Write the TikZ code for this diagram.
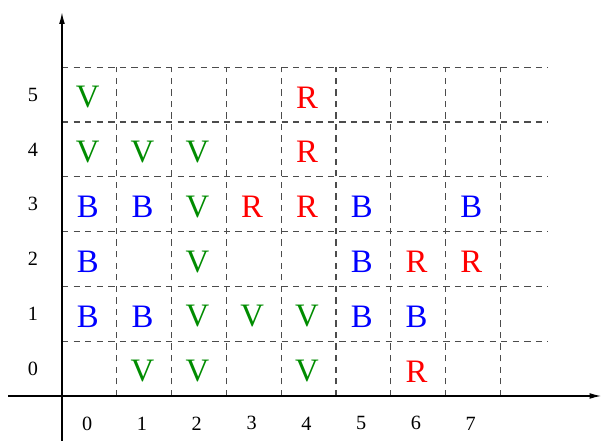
\documentclass[tikz,border=0pt]{standalone}
\usepackage{fontspec}
\setmainfont{Liberation Serif}
\usetikzlibrary{arrows.meta}
\definecolor{cgreen}{RGB}{0,140,0}
\definecolor{cred}{RGB}{255,0,0}
\definecolor{cblue}{RGB}{0,0,255}
\tikzset{
  axis/.style={line width=0.65pt, -{Latex[length=6pt,width=3pt]}},
  gridline/.style={dash pattern=on 3.3pt off 2.7pt, draw=black!70, line width=0.6pt},
  ticklabel/.style={font=\fontsize{10.5}{12}\selectfont},
  cell/.style={font=\fontsize{17}{20}\selectfont, inner sep=0pt},
  cv/.style={cell, text=cgreen},
  cr/.style={cell, text=cred},
  cb/.style={cell, text=cblue}
}
\begin{document}
\begin{tikzpicture}[x=1cm,y=1cm]
\useasboundingbox (-1.131,-0.821) rectangle (9.854,7.226);
% dashed grid
\foreach \j in {1,...,6} \draw[gridline] (0,\j) -- (8.87,\j);
\foreach \i in {1,...,8} \draw[gridline] (\i,0) -- (\i,6);
% axes
\coordinate (xs) at (-0.985,0);
\coordinate (xe) at (9.84,0);
\coordinate (ys) at (0,-0.821);
\coordinate (ye) at (0,7.0);
\draw[axis] (xs) -- (xe);
\draw[axis] (ys) -- (ye);
% axis labels
\foreach \i in {0,...,7} \node[ticklabel] (xl\i) at (\i+0.46,-0.5) {\i};
\foreach \j in {0,...,5} \node[ticklabel] (yl\j) at (-0.53,\j+0.5) {\j};
% cell contents
\foreach \x/\y/\s/\t in {
  0/5/cv/V, 4/5/cr/R,
  0/4/cv/V, 1/4/cv/V, 2/4/cv/V, 4/4/cr/R,
  0/3/cb/B, 1/3/cb/B, 2/3/cv/V, 3/3/cr/R, 4/3/cr/R, 5/3/cb/B, 7/3/cb/B,
  0/2/cb/B, 2/2/cv/V, 5/2/cb/B, 6/2/cr/R, 7/2/cr/R,
  0/1/cb/B, 1/1/cb/B, 2/1/cv/V, 3/1/cv/V, 4/1/cv/V, 5/1/cb/B, 6/1/cb/B,
  1/0/cv/V, 2/0/cv/V, 4/0/cv/V, 6/0/cr/R}
  \node[\s] (c\x\y) at (\x+0.47,\y+0.45) {\t};
\end{tikzpicture}
\end{document}
